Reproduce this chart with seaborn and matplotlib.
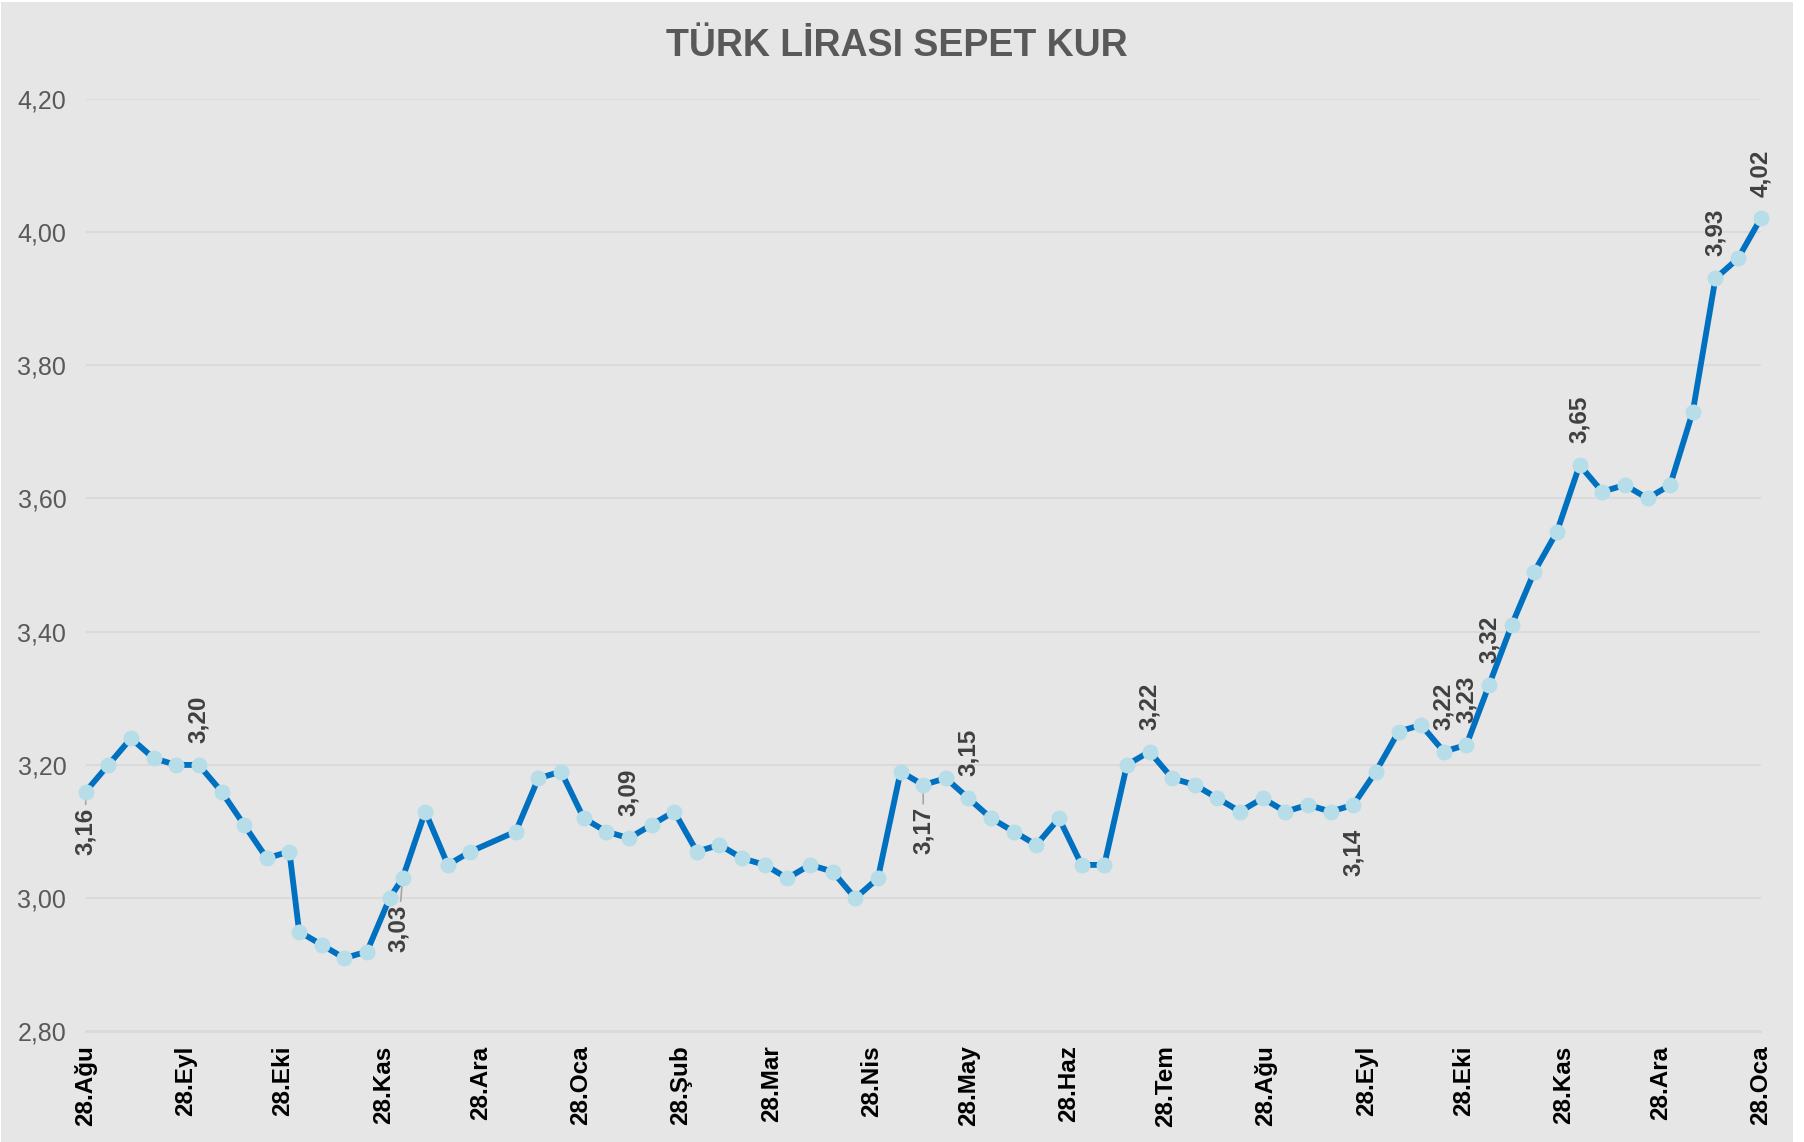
import pandas as pd
import matplotlib
matplotlib.use("Agg")
import matplotlib.pyplot as plt
from matplotlib.patches import Rectangle
from matplotlib.ticker import FuncFormatter
import seaborn as sns

# ==============================
# Veriler (haftalık sepet kur)
# ==============================
tarihler = [
    "2016-08-28", "2016-09-04", "2016-09-11", "2016-09-18", "2016-09-25",
    "2016-10-02", "2016-10-09", "2016-10-16", "2016-10-23", "2016-10-30",
    "2016-11-02", "2016-11-09", "2016-11-16", "2016-11-23", "2016-11-30",
    "2016-12-04", "2016-12-11", "2016-12-18", "2016-12-25",
    "2017-01-08", "2017-01-15", "2017-01-22", "2017-01-29", "2017-02-05",
    "2017-02-12", "2017-02-19", "2017-02-26", "2017-03-05", "2017-03-12",
    "2017-03-19", "2017-03-26", "2017-04-02", "2017-04-09", "2017-04-16",
    "2017-04-23", "2017-04-30", "2017-05-07", "2017-05-14", "2017-05-21",
    "2017-05-28", "2017-06-04", "2017-06-11", "2017-06-18", "2017-06-25",
    "2017-07-02", "2017-07-09", "2017-07-16", "2017-07-23", "2017-07-30",
    "2017-08-06", "2017-08-13", "2017-08-20", "2017-08-27", "2017-09-03",
    "2017-09-10", "2017-09-17", "2017-09-24", "2017-10-01", "2017-10-08",
    "2017-10-15", "2017-10-22", "2017-10-29", "2017-11-05", "2017-11-12",
    "2017-11-19", "2017-11-26", "2017-12-03", "2017-12-10", "2017-12-17",
    "2017-12-24", "2017-12-31", "2018-01-07", "2018-01-14", "2018-01-21",
    "2018-01-28",
]
kur = [
    3.16, 3.20, 3.24, 3.21, 3.20,
    3.20, 3.16, 3.11, 3.06, 3.07,
    2.95, 2.93, 2.91, 2.92, 3.00,
    3.03, 3.13, 3.05, 3.07,
    3.10, 3.18, 3.19, 3.12, 3.10,
    3.09, 3.11, 3.13, 3.07, 3.08,
    3.06, 3.05, 3.03, 3.05, 3.04,
    3.00, 3.03, 3.19, 3.17, 3.18,
    3.15, 3.12, 3.10, 3.08, 3.12,
    3.05, 3.05, 3.20, 3.22, 3.18,
    3.17, 3.15, 3.13, 3.15, 3.13,
    3.14, 3.13, 3.14, 3.19, 3.25,
    3.26, 3.22, 3.23, 3.32, 3.41,
    3.49, 3.55, 3.65, 3.61, 3.62,
    3.60, 3.62, 3.73, 3.93, 3.96,
    4.02,
]

# eksen etiketleri (her ayın 28'i)
tick_tarihleri = [
    "2016-08-28", "2016-09-28", "2016-10-28", "2016-11-28", "2016-12-28",
    "2017-01-28", "2017-02-28", "2017-03-28", "2017-04-28", "2017-05-28",
    "2017-06-28", "2017-07-28", "2017-08-28", "2017-09-28", "2017-10-28",
    "2017-11-28", "2017-12-28", "2018-01-28",
]
tick_etiketleri = [
    "28.Ağu", "28.Eyl", "28.Eki", "28.Kas", "28.Ara", "28.Oca",
    "28.Şub", "28.Mar", "28.Nis", "28.May", "28.Haz", "28.Tem",
    "28.Ağu", "28.Eyl", "28.Eki", "28.Kas", "28.Ara", "28.Oca",
]

# değer etiketi gösterilen noktalar
etiket_tarihleri = [
    "2016-08-28", "2016-10-02", "2016-12-04", "2017-02-12", "2017-05-14",
    "2017-05-28", "2017-07-23", "2017-09-24", "2017-10-22", "2017-10-29",
    "2017-11-05", "2017-12-03", "2018-01-14", "2018-01-28",
]

# etiket yerleşimi (nokta cinsinden kaydırma, çizgi var mı)
etiket_stili = {
    "2016-08-28": ((0, -11.5), True),
    "2016-12-04": ((-3, -19), True),
    "2017-05-14": ((0, -16), True),
    "2017-09-24": ((0, -17), False),
}

# ==============================
# Grafik
# ==============================
BG = "#E7E6E6"
df = pd.DataFrame({"tarih": pd.to_datetime(tarihler), "kur": kur})

sns.set_style("white")
plt.rcParams["font.family"] = ["Liberation Sans", "DejaVu Sans"]

W, H = 1804, 1142
fig = plt.figure(figsize=(W / 100, H / 100), dpi=100, facecolor="white")
fig.patches.append(Rectangle((1 / W, 0), 1792 / W, 1 - 2 / H,
                             transform=fig.transFigure, facecolor=BG,
                             edgecolor="none", zorder=-5))
ax = fig.add_axes([85.7 / W, 1 - 1031.5 / H, 1675 / W, 933 / H])
ax.set_facecolor(BG)
ax.set_zorder(1)

sns.lineplot(data=df, x="tarih", y="kur", ax=ax, color="#0070C0",
             linewidth=4.2, marker="o", markersize=11.5,
             markerfacecolor="#B7DEE8", markeredgewidth=0,
             clip_on=False, zorder=3)

ax.set_ylim(2.8, 4.2)
ax.set_yticks([2.8, 3.0, 3.2, 3.4, 3.6, 3.8, 4.0, 4.2])
ax.yaxis.set_major_formatter(FuncFormatter(lambda v, _: f"{v:.2f}".replace(".", ",")))
ax.set_xlim(df["tarih"].iloc[0], df["tarih"].iloc[-1])
ax.set_xticks(pd.to_datetime(tick_tarihleri))
ax.set_xticklabels(tick_etiketleri, rotation=90, fontsize=17.5,
                   fontweight="bold", color="black")

ax.yaxis.grid(True, color="#D9D9D9", linewidth=1.3)
ax.xaxis.grid(False)
for s in ["left", "right", "top"]:
    ax.spines[s].set_visible(False)
ax.spines["bottom"].set_color("#D9D9D9")
ax.spines["bottom"].set_linewidth(1.3)
ax.tick_params(axis="y", length=0, pad=14, labelsize=18, labelcolor="#595959")
ax.tick_params(axis="x", direction="out", length=3.6, width=1.3,
               color="#D9D9D9", pad=6.5)
ax.set_xlabel("")
ax.set_ylabel("")

# değer etiketleri
for t in etiket_tarihleri:
    d = pd.Timestamp(t)
    v = df.loc[df["tarih"] == d, "kur"].iloc[0]
    (dx, dy), cizgi = etiket_stili.get(t, ((0, 15.8), False))
    kw = {}
    if cizgi:
        kw["arrowprops"] = dict(arrowstyle="-", color="#A6A6A6", lw=1.2,
                                shrinkA=0, shrinkB=0)
    ax.annotate(f"{v:.2f}".replace(".", ","), xy=(d, v), xytext=(dx, dy),
                textcoords="offset points", rotation=90, ha="center",
                va="bottom" if dy > 0 else "top", fontsize=17.5,
                fontweight="bold", color="#404040", zorder=2,
                annotation_clip=False, **kw)

fig.text(897 / W, 1 - 46.5 / H, "TÜRK LİRASI SEPET KUR", ha="center",
         va="center", fontsize=27, fontweight="bold", color="#595959")

plt.savefig("out.png", dpi=100, facecolor=fig.get_facecolor())
